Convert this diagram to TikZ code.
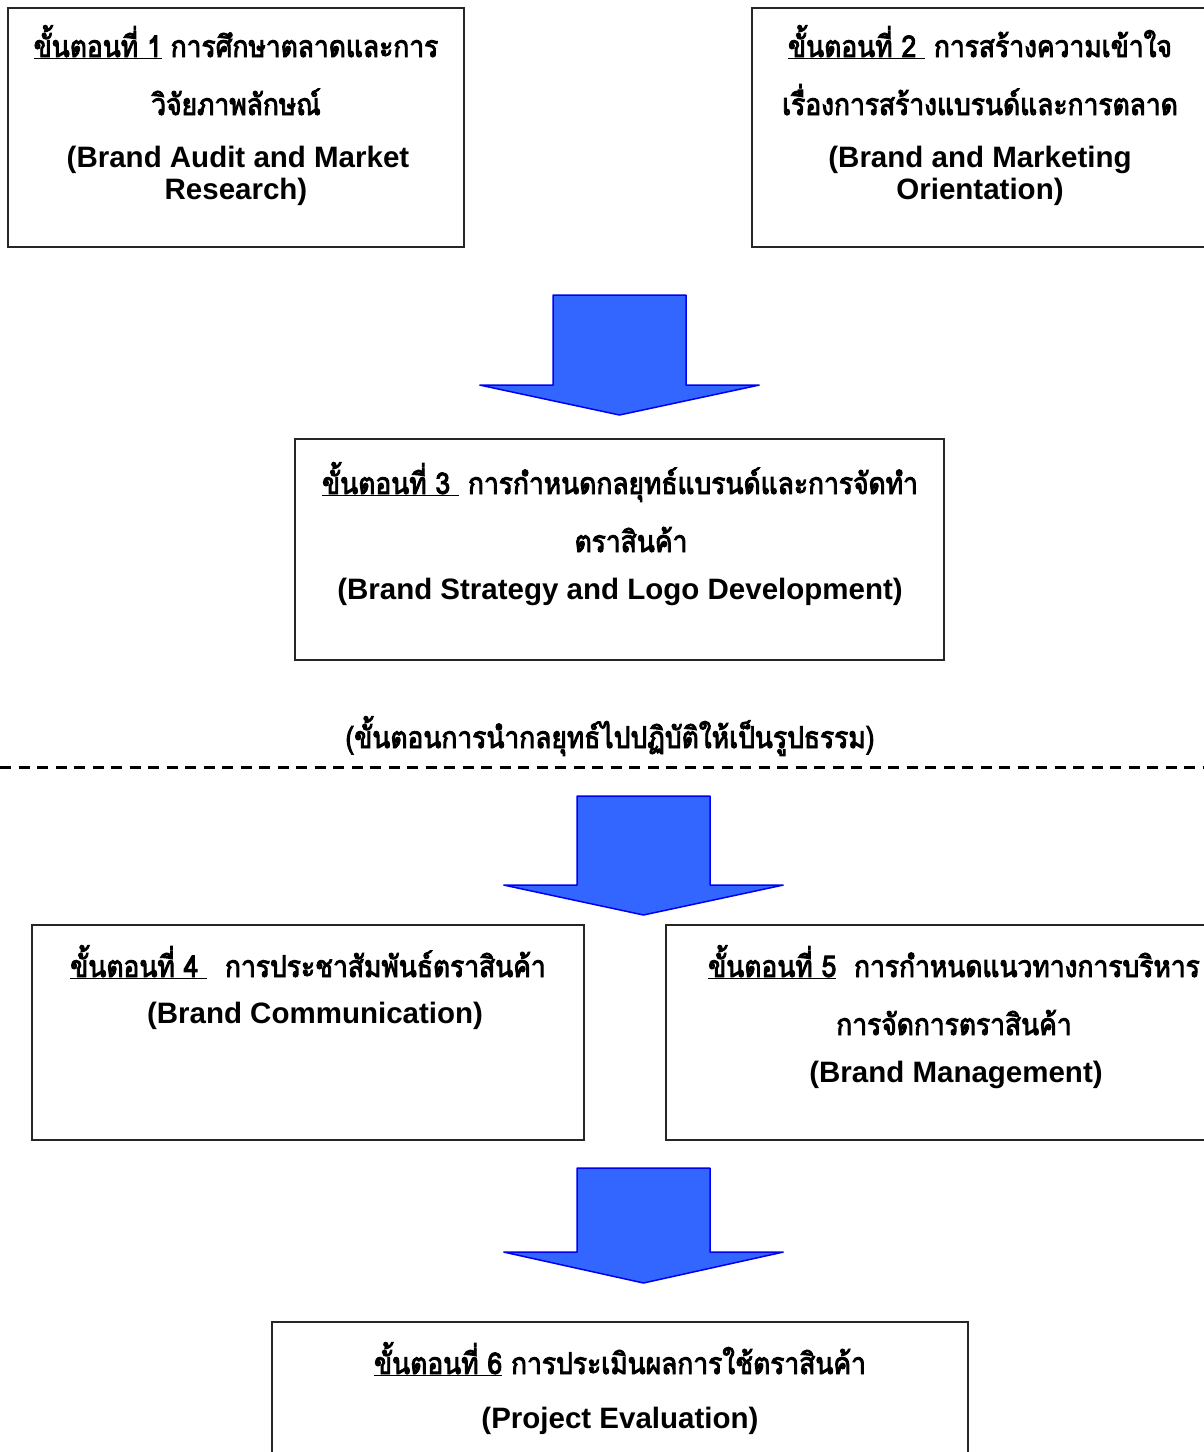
\documentclass[tikz,border=0pt]{standalone}
\usepackage{fontspec}
\setmainfont{Liberation Sans}
\newfontfamily\thaifont[Script=Thai,FakeStretch=0.88,FakeBold=3]{Loma}
\definecolor{arrowfill}{RGB}{51,102,255}
\definecolor{arrowline}{RGB}{0,0,240}
\tikzset{
  stage/.style={draw=black!85, line width=1.5pt, rectangle, inner sep=0pt},
  eng/.style={font=\bfseries\fontsize{29.5}{33}\selectfont, inner sep=0pt, anchor=base},
  thai/.style={font=\thaifont\fontsize{30}{34}\selectfont, inner sep=0pt, anchor=base},
  blk/.style={fill=arrowfill, draw=arrowline, line width=1.5pt, line join=bevel},
  sep/.style={line width=3pt, dash pattern=on 11pt off 7.5pt},
}
\newcommand\blockarrow[4]{% center x, top y, shoulder y, tip y
  \path[blk] (#1-66.5,#2) -- (#1+66.5,#2) -- (#1+66.5,#3) -- (#1+140,#3)
    -- (#1,#4) -- (#1-140,#3) -- (#1-66.5,#3) -- cycle;}
\begin{document}
\begin{tikzpicture}[x=1pt,y=-1pt]
\useasboundingbox (0,0) rectangle (1204,1452);
\clip (0,0) rectangle (1204,1452);
% stage boxes
\node[stage, minimum width=456pt, minimum height=239pt] (s1) at (236,127.5) {};
\node[stage, minimum width=460pt, minimum height=239pt] (s2) at (982,127.5) {};
\node[stage, minimum width=649pt, minimum height=221pt] (s3) at (619.5,549.5) {};
\node[stage, minimum width=552pt, minimum height=215pt] (s4) at (308,1032.5) {};
\node[stage, minimum width=546pt, minimum height=215pt] (s5) at (939,1032.5) {};
\node[stage, minimum width=696pt, minimum height=140pt] (s6) at (620,1392) {};
% texts box 1
\node[thai] (t1a) at (236,57) {\underline{ขั้นตอนที่ 1} การศึกษาตลาดและการ};
\node[thai] (t1b) at (236,115) {วิจัยภาพลักษณ์};
\node[eng] (e1a) at (238,167) {(Brand Audit and Market};
\node[eng] (e1b) at (236,199) {Research)};
% texts box 2
\node[thai] (t2a) at (980,57) {\underline{ขั้นตอนที่ 2\ } การสร้างความเข้าใจ};
\node[thai] (t2b) at (980,115) {เรื่องการสร้างแบรนด์และการตลาด};
\node[eng] (e2a) at (980,167) {(Brand and Marketing};
\node[eng] (e2b) at (980,199) {Orientation)};
% texts box 3
\node[thai] (t3a) at (620,494) {\underline{ขั้นตอนที่ 3\ } การกำหนดกลยุทธ์แบรนด์และการจัดทำ};
\node[thai] (t3b) at (631,552) {ตราสินค้า};
\node[eng] (e3a) at (620,599) {(Brand Strategy and Logo Development)};
% separator
\node[thai] (lbl) at (610,748) {(ขั้นตอนการนำกลยุทธ์ไปปฏิบัติให้เป็นรูปธรรม)};
\coordinate (d0) at (0,767);
\coordinate (d1) at (1204,767);
\draw[sep] (d0) -- (d1);
% texts box 4
\node[thai] (t4a) at (308,977) {\underline{ขั้นตอนที่ 4\ } \ การประชาสัมพันธ์ตราสินค้า};
\node[eng] (e4a) at (315,1023) {(Brand Communication)};
% texts box 5
\node[thai] (t5a) at (954,977) {\underline{ขั้นตอนที่ 5}\ \ การกำหนดแนวทางการบริหาร};
\node[thai] (t5b) at (954,1035) {การจัดการตราสินค้า};
\node[eng] (e5a) at (956,1082) {(Brand Management)};
% texts box 6
\node[thai] (t6a) at (620,1374) {\underline{ขั้นตอนที่ 6} การประเมินผลการใช้ตราสินค้า};
\node[eng] (e6a) at (620,1428) {(Project Evaluation)};
% block arrows
\blockarrow{619.5}{295}{385}{415}
\blockarrow{643.5}{796}{885}{915}
\blockarrow{643.5}{1168}{1252}{1283}
\end{tikzpicture}
\end{document}
